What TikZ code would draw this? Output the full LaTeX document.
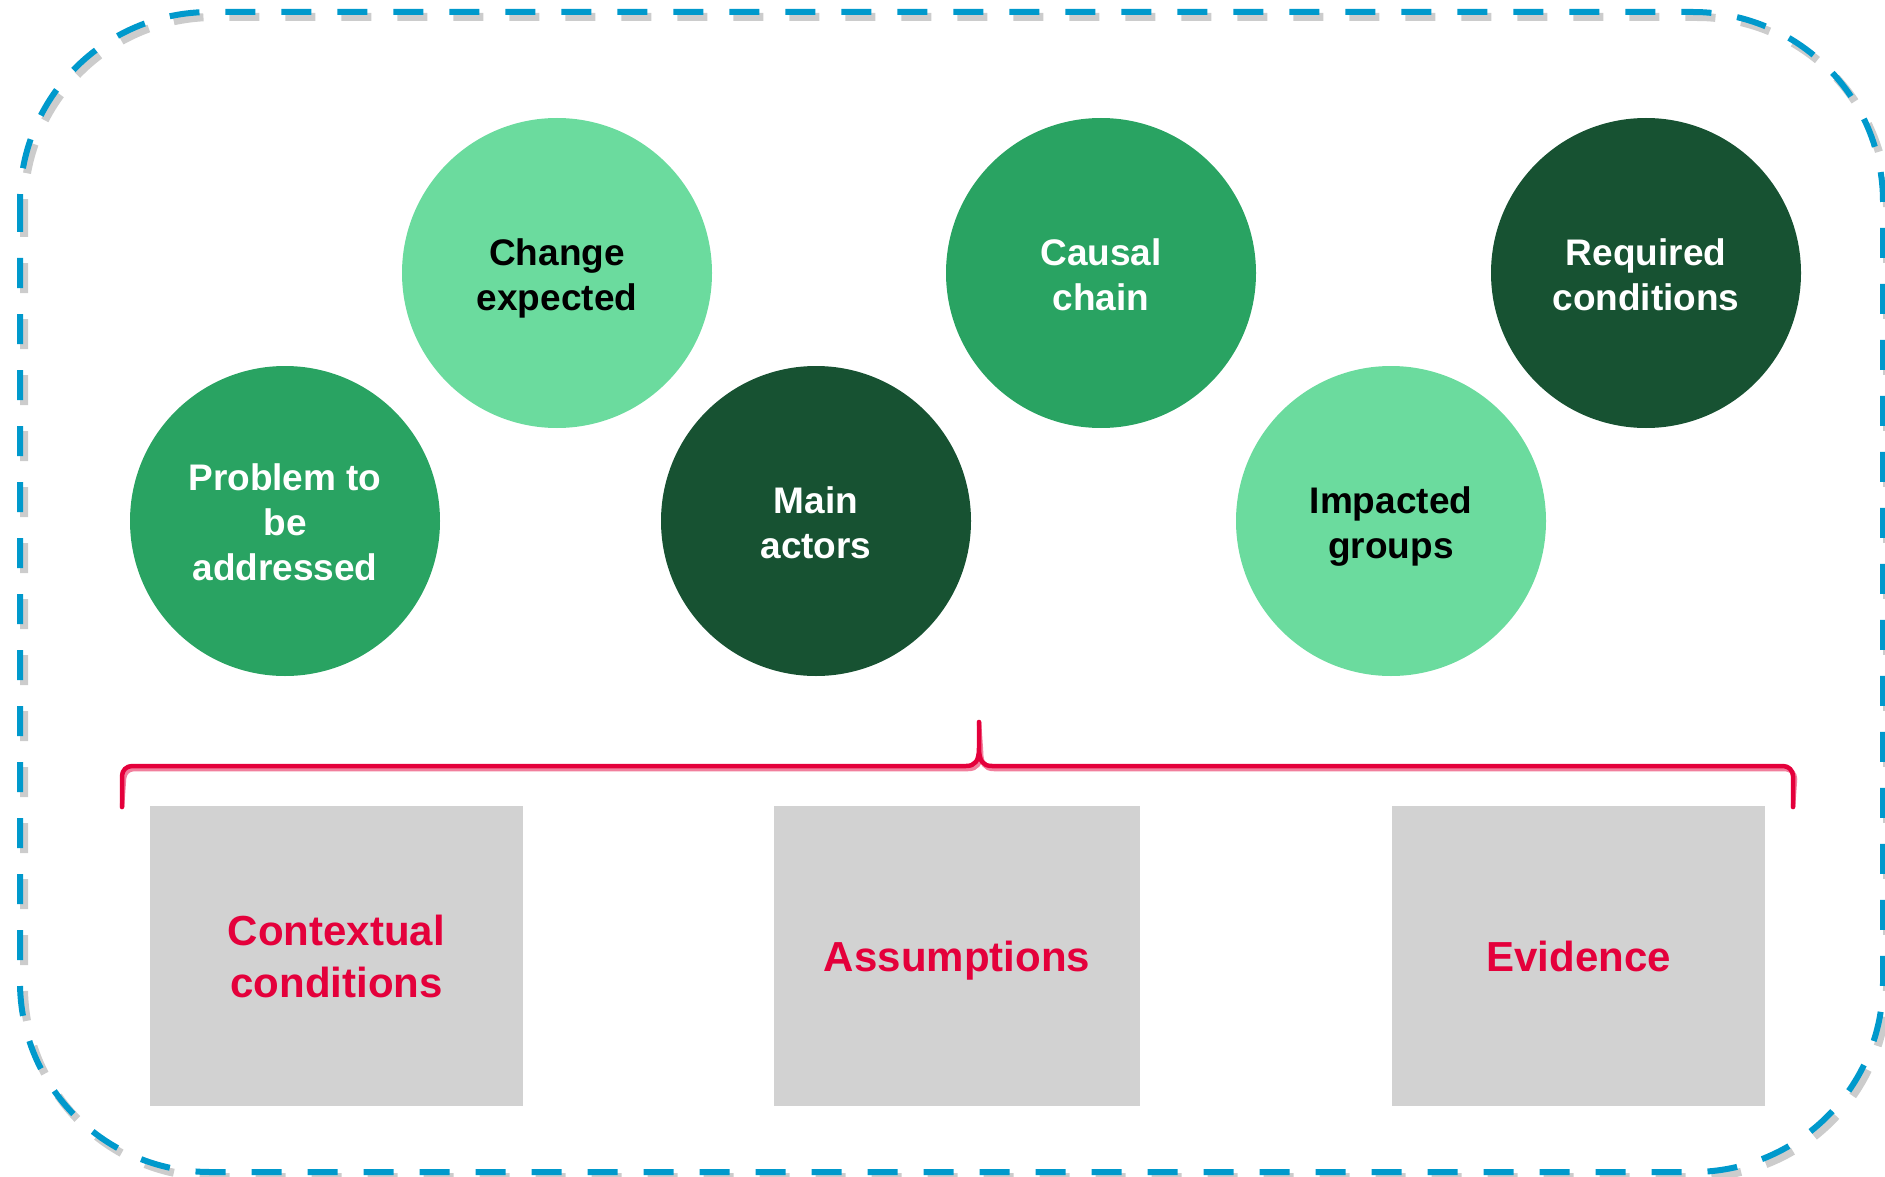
\documentclass[tikz,border=0pt]{standalone}
\usepackage{fontspec}
\setmainfont{Liberation Sans}
\definecolor{lgreen}{HTML}{6BDB9E}
\definecolor{mgreen}{HTML}{29A362}
\definecolor{dgreen}{HTML}{175232}
\definecolor{bred}{HTML}{E4003B}
\definecolor{bblue}{HTML}{0099CC}
\definecolor{bgray}{HTML}{D2D2D2}
\newcommand\stl{\rule[-0.21em]{0pt}{\dimexpr1.14em+3pt\relax}}
\newcommand\stb{\rule[-0.21em]{0pt}{1.14em}}
\begin{document}
\begin{tikzpicture}[x=1pt,y=-1pt,
  circ/.style={circle,minimum size=310pt,inner sep=0pt,align=center,font=\fontsize{37}{45}\selectfont\bfseries},
  lc/.style={circ,fill=lgreen,text=black},
  mc/.style={circ,fill=mgreen,text=white},
  dc/.style={circ,fill=dgreen,text=white},
  gbox/.style={fill=bgray,align=center,text=bred,font=\fontsize{42}{52}\selectfont\bfseries,inner sep=0pt},
  border/.style={line width=6pt,dash pattern=on 30pt off 26pt,rounded corners=190pt},
  bracestyle/.style={line width=4.5pt,bred,line cap=round,line join=round}]
\useasboundingbox (0,0) rectangle (1885,1177);
% border shadow and border
\draw[border,black!40,opacity=0.5,line width=8pt] (24,17) rectangle (1887,1177);
\draw[border,bblue] (20,12) rectangle (1883,1172);
% circles
\node[lc] (ce) at (557,273) {\stl Change\\\stb expected};
\node[mc] (cc) at (1101,273) {\stl Causal\\\stb chain};
\node[dc] (rc) at (1646,273) {\stl Required\\\stb conditions};
\node[mc] (pb) at (285,521) {\stl Problem to\\\stb be\\\stb addressed};
\node[dc] (ma) at (816,521) {\stl Main\\\stb actors};
\node[lc] (ig) at (1391,521) {\stl Impacted\\\stb groups};
% brace
\coordinate (bl) at (122,807);
\coordinate (br) at (1793,807);
\coordinate (bt) at (979,722);
\begin{scope}[shift={(2,3)},black!35,opacity=0.5]
\draw[bracestyle] (bl) -- (122,776) arc[start angle=180,end angle=270,radius=10] -- (966,766) .. controls (975,766) and (979,761) .. (979,748) -- (bt) -- (979,748) .. controls (979,761) and (983,766) .. (992,766) -- (1783,766) arc[start angle=-90,end angle=0,radius=10] -- (br);
\end{scope}
\draw[bracestyle] (bl) -- (122,776) arc[start angle=180,end angle=270,radius=10] -- (966,766) .. controls (975,766) and (979,761) .. (979,748) -- (bt) -- (979,748) .. controls (979,761) and (983,766) .. (992,766) -- (1783,766) arc[start angle=-90,end angle=0,radius=10] -- (br);
% boxes
\node[gbox,minimum width=373pt,minimum height=300pt] (cx) at (336.5,956) {\stb Contextual\\\stb conditions};
\node[gbox,minimum width=366pt,minimum height=300pt] (as) at (957,956) {\stb Assumptions};
\node[gbox,minimum width=373pt,minimum height=300pt] (ev) at (1578.5,956) {\stb Evidence};
\end{tikzpicture}
\end{document}
